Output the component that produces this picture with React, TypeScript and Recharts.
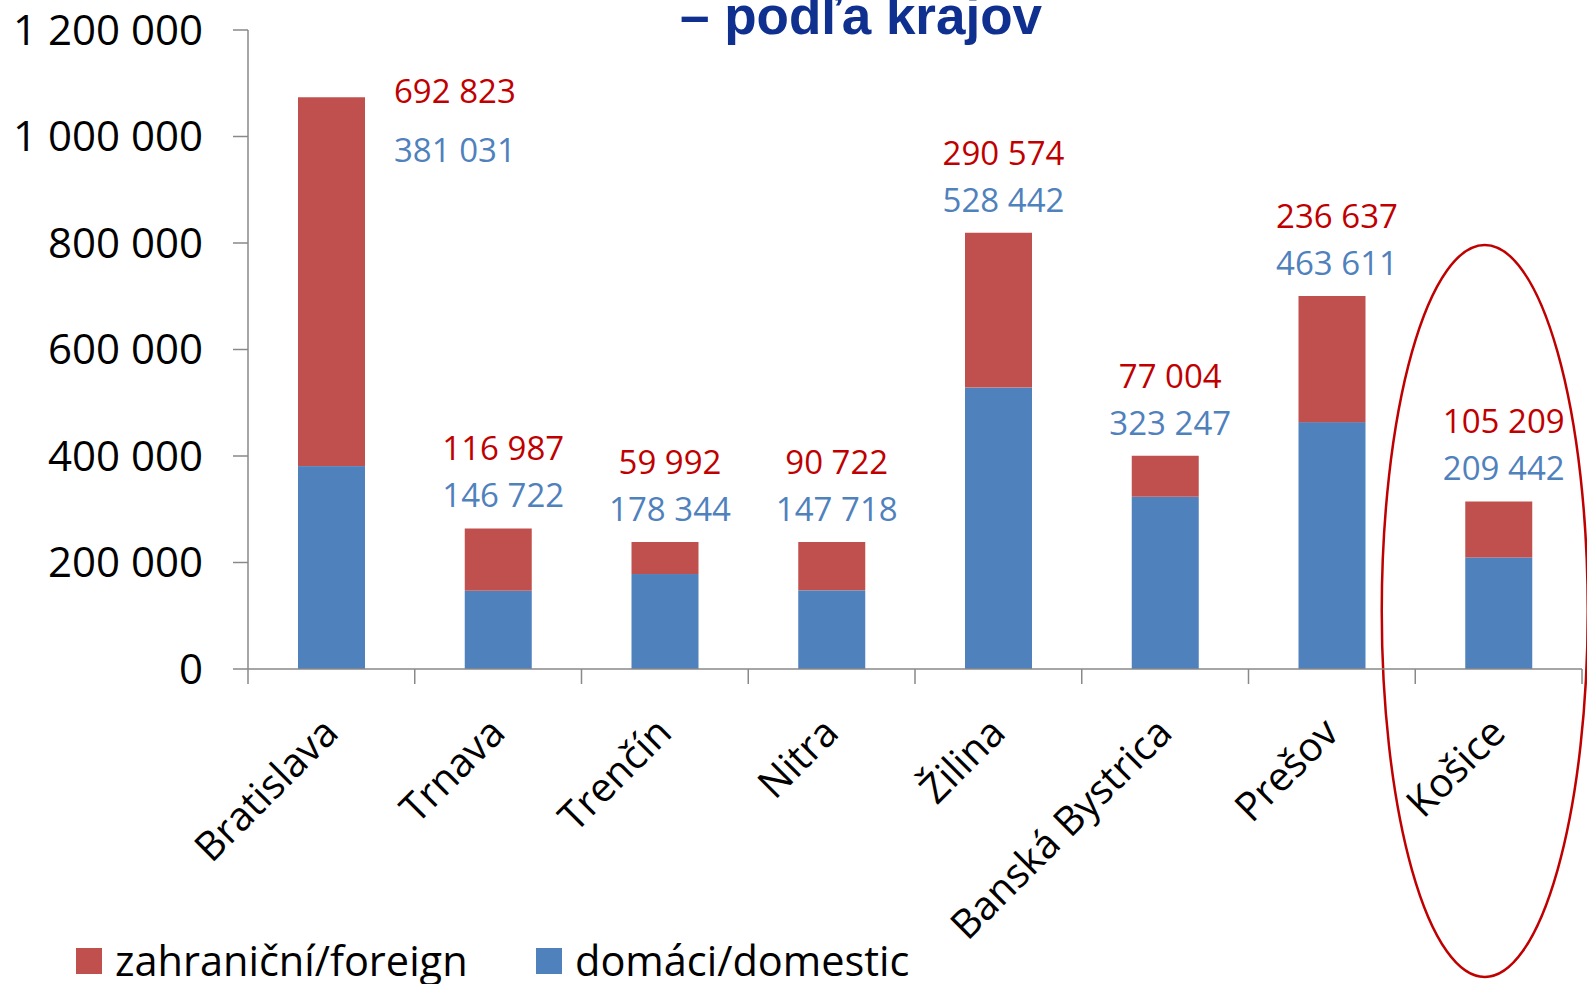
import React from 'react';
import { BarChart, Bar, XAxis, YAxis, Legend, LabelList } from 'recharts';

const regions = ['Bratislava', 'Trnava', 'Trenčín', 'Nitra', 'Žilina', 'Banská Bystrica', 'Prešov', 'Košice'];
const domestic = [381031, 146722, 178344, 147718, 528442, 323247, 463611, 209442];
const foreign = [692823, 116987, 59992, 90722, 290574, 77004, 236637, 105209];
const yTicks = [0, 200000, 400000, 600000, 800000, 1000000, 1200000];
const seriesNames = { foreign: 'zahraniční/foreign', domestic: 'domáci/domestic' };
const highlightedRegion = 'Košice';
const title = '– podľa krajov';

const data = regions.map((name, i) => ({ name, domestic: domestic[i], foreign: foreign[i] }));

const RED = '#c0504d';
const BLUE = '#4f81bd';
const RED_TEXT = '#c00000';
const AXIS = '#898989';
const FONT = '"Open Sans", "Noto Sans", sans-serif';

const W = 1587;
const H = 984;
const margin = { top: 30, right: 5, left: 0, bottom: 0 };
const yAxisWidth = 248;
const legendHeight = 55;
const bandWidth = (W - margin.right - yAxisWidth) / regions.length;

// 1200000 -> "1 200 000"
const fmt = (v: number) => String(v).replace(/\B(?=(\d{3})+(?!\d))/g, ' ');

const XTick = (props: any) => {
  const { x, y, payload, index } = props;
  const left = x - bandWidth / 2;
  const right = x + bandWidth / 2;
  const lx = x + 9;
  const ly = y + 66;
  return (
    <g>
      <line x1={left} y1={y} x2={left} y2={y + 15} stroke={AXIS} strokeWidth={1.5} />
      {index === regions.length - 1 && (
        <line x1={right} y1={y} x2={right} y2={y + 15} stroke={AXIS} strokeWidth={1.5} />
      )}
      <text
        x={lx}
        y={ly}
        transform={`rotate(-45 ${lx} ${ly})`}
        textAnchor="end"
        fontSize={40}
        fontFamily={FONT}
        fill="#000"
      >
        {payload.value}
      </text>
    </g>
  );
};

// domestic bar + the red ring around the highlighted region
const DomesticShape = (props: any) => {
  const { x, y, width, height, payload } = props;
  const zeroY = y + height;
  return (
    <g>
      <rect x={x} y={y} width={width} height={height} fill={BLUE} />
      {payload && payload.name === highlightedRegion && (
        <ellipse
          cx={x + width / 2 - 14}
          cy={zeroY - 58}
          rx={103}
          ry={366}
          fill="none"
          stroke={RED_TEXT}
          strokeWidth={2.5}
        />
      )}
    </g>
  );
};

// labels sit above the stack, or beside it when the stack is too tall
const labelPos = (x: number, y: number, width: number) => {
  if (y - 81 < 60) {
    return { anchor: 'start', lx: x + width + 29, redY: y - 6, blueY: y + 53 };
  }
  return { anchor: 'middle', lx: x + width / 2 + 5, redY: y - 80, blueY: y - 33 };
};

const makeLabel = (kind: 'foreign' | 'domestic') => (props: any) => {
  const { x, y, width, value } = props;
  const p = labelPos(Number(x), Number(y), Number(width));
  return (
    <text
      x={p.lx}
      y={kind === 'foreign' ? p.redY : p.blueY}
      dy="0.36em"
      textAnchor={p.anchor as any}
      fontSize={33}
      fontFamily={FONT}
      fill={kind === 'foreign' ? RED_TEXT : BLUE}
    >
      {fmt(Number(value))}
    </text>
  );
};

const renderLegend = () => {
  const items: [string, string][] = [
    [seriesNames.foreign, RED],
    [seriesNames.domestic, BLUE],
  ];
  return (
    <div
      style={{
        display: 'flex',
        alignItems: 'center',
        height: legendHeight,
        paddingLeft: 76,
        paddingTop: 8,
        boxSizing: 'border-box',
        fontFamily: FONT,
        fontSize: 41.5,
        lineHeight: 1,
        color: '#000',
      }}
    >
      {items.map(([name, color], i) => (
        <div key={name} style={{ display: 'flex', alignItems: 'center', width: i === 0 ? 460 : 'auto' }}>
          <span style={{ width: 26, height: 26, background: color, marginRight: 13, display: 'inline-block' }} />
          <span>{name}</span>
        </div>
      ))}
    </div>
  );
};

const App: React.FC = () => {
  return (
    <div style={{ position: 'absolute', left: 0, top: 0, width: W, height: H, background: '#fff' }}>
      <BarChart width={W} height={H} data={data} margin={margin}>
        <text
          x={861}
          y={34}
          textAnchor="middle"
          fontFamily='"Liberation Sans", Arial, sans-serif'
          fontWeight="bold"
          fontSize={53}
          fill="#10308f"
        >
          {title}
        </text>
        <XAxis
          dataKey="name"
          interval={0}
          height={H - 669 - legendHeight}
          tickLine={false}
          tickSize={0}
          tickMargin={0}
          axisLine={{ stroke: AXIS, strokeWidth: 1.5 }}
          tick={<XTick />}
        />
        <YAxis
          width={yAxisWidth}
          domain={[0, 1200000]}
          ticks={yTicks}
          interval={0}
          tickSize={15}
          tickMargin={30}
          tickFormatter={fmt}
          axisLine={{ stroke: AXIS, strokeWidth: 1.5 }}
          tickLine={{ stroke: AXIS, strokeWidth: 1.5 }}
          tick={{ fill: '#000', fontSize: 42, fontFamily: FONT }}
        />
        <Legend
          verticalAlign="bottom"
          align="left"
          content={renderLegend}
          wrapperStyle={{ left: 0, bottom: 0, width: 1000, height: legendHeight }}
        />
        <Bar dataKey="domestic" stackId="a" barSize={67} fill={BLUE} shape={<DomesticShape />} isAnimationActive={false} />
        <Bar dataKey="foreign" stackId="a" barSize={67} fill={RED} isAnimationActive={false}>
          <LabelList dataKey="foreign" content={makeLabel('foreign')} />
          <LabelList dataKey="domestic" content={makeLabel('domestic')} />
        </Bar>
      </BarChart>
    </div>
  );
};

export default App;
